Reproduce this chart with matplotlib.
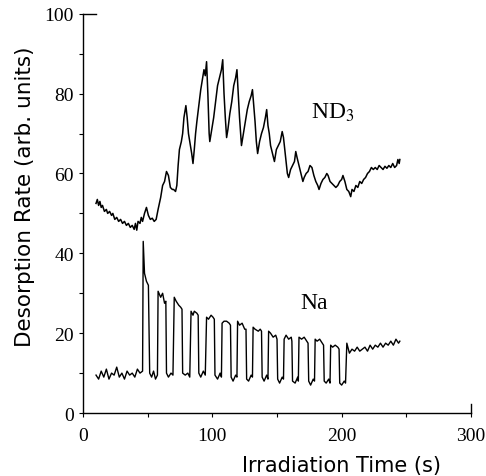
import matplotlib
matplotlib.use("Agg")
import matplotlib.pyplot as plt
from matplotlib.ticker import MultipleLocator

# ND3 desorption trace (time s, rate)
nd3_t = [10, 11, 12, 13, 14, 15, 16.5, 18, 19, 20.5, 22, 23, 24.5, 26, 27.5, 29, 30.5, 32, 33.5,
         35, 36.5, 38, 39.5, 40.5, 41.5, 42.5, 44, 45, 46, 47.5, 49, 50.5, 52, 53.5, 55, 56.5,
         58, 60, 61.5, 63, 64.5, 66, 67.5, 69, 70, 71.5, 72.5, 73.5, 74.5, 76, 77, 78, 79.5,
         80.5, 81.5, 82.5, 84, 85, 86, 87, 88, 89.5, 91, 92.5, 93.5, 94.5, 95.5, 96.5, 97.5,
         98, 99.5, 101, 102.5, 104, 105.5, 107, 108, 109, 110, 111, 112, 113.5, 115, 116.5,
         118, 119, 120, 121, 122.5, 124, 125.5, 127, 128.5, 130, 131, 132, 133, 134, 135,
         136.5, 138, 139.5, 141, 142, 143, 144, 145, 146.5, 148, 149.5, 151, 152.5, 154, 155,
         156, 157, 158, 159, 160.5, 162, 163.5, 164.5, 165.5, 167, 168.5, 170, 171, 172.5,
         174, 175.5, 177, 178.5, 180, 181.5, 182.5, 184, 185.5, 187, 188.5, 189.5, 191, 192.5,
         194, 195.5, 197, 198.5, 200, 201, 202.5, 204, 205.5, 207, 208, 209.5, 211, 212.5, 214,
         215.5, 217, 218.5, 220, 221.5, 223, 224.5, 226, 227.5, 229, 230.5, 232, 233.5, 235,
         236.5, 238, 239.5, 241, 242.5, 243.5, 244.5, 245]
nd3_v = [52.5, 53.5, 52, 53, 51.5, 52, 50.5, 51, 50, 50.5, 49.5, 50, 48.5, 49, 48, 48.5, 47.5, 48, 47,
         47.5, 46.5, 47, 46, 47.5, 45.8, 48, 47.5, 49, 48, 50, 51.5, 49.5, 48.5, 48.8, 48, 48.5,
         51, 54, 57, 58, 60.5, 59.5, 56.5, 56, 56, 55.5, 57, 62, 66, 68, 70, 74, 77,
         74, 70, 68, 65, 62.5, 66, 70, 73, 77, 81, 84, 86, 84.5, 88, 80, 70,
         68, 71, 74, 78, 82, 84, 86, 88.5, 80, 74, 69, 71, 75, 78, 82,
         84, 86, 80, 74, 67, 70, 73, 76, 78, 79.5, 81, 77, 73, 68, 65,
         68, 70, 71.5, 74, 76, 72, 70, 67, 65, 63, 66, 67, 68, 70.5, 69,
         66, 63, 60, 59, 61, 62, 63, 65.5, 64, 62, 60, 58, 59, 60,
         60.5, 62, 61.5, 59.5, 58, 57, 56, 57.5, 58.5, 59, 60, 59.5, 58, 57.5,
         57, 56.5, 57, 58, 58.5, 59.5, 58, 56, 55.5, 54.2, 56, 55.5, 57, 56.5, 58,
         57.5, 58.5, 59, 60, 60.5, 61.5, 61, 61.5, 61, 62, 61.5, 61, 61.8, 61.3,
         62, 61.5, 62.5, 61.5, 62, 63.5, 62.5, 63.5]

# Na desorption trace (pulsed laser on/off)
na_t = [10, 12, 14, 16, 18, 20, 22, 24, 26, 28, 30, 32, 34, 36, 38, 40, 42, 44, 46,
        46.5, 47.5, 49, 50.5, 51.5, 53, 54.5, 56, 57.5,
        58, 60, 61.5, 63, 64, 64.5, 66, 68, 69.5,
        70.5, 72, 74, 75.5, 76.5, 77, 79, 81, 82.5,
        83.5, 85, 86, 88, 89, 89.5, 91, 93, 94.5,
        95.5, 97, 99, 100.5, 101.5, 102, 104, 106, 107,
        107.5, 109, 111, 113, 114, 114.5, 116, 118, 119,
        119.5, 121, 123, 125, 126, 126.5, 128, 130, 131,
        131.5, 133, 135.5, 137, 138, 138.5, 140, 142, 143,
        143.5, 145, 147, 149, 150, 150.5, 152, 154, 155,
        155.5, 157, 159, 161, 161.5, 162, 164, 166, 166.5,
        167, 169, 171, 173, 174, 174.5, 176, 178, 179,
        179.5, 181, 183, 185, 186, 186.5, 188, 190, 191,
        191.5, 193, 195, 197, 198, 198.5, 200, 202, 203,
        204, 206, 208, 210, 212, 214, 216, 218, 220, 222, 224, 226, 228, 230, 232,
        234, 236, 238, 240, 242, 244, 245]
na_v = [9.5, 8.5, 10.5, 9, 11, 8.5, 10, 9.5, 11.5, 9, 10, 8.5, 10.5, 9.5, 10, 9, 11, 10, 10.5,
        43, 35, 33, 32, 10, 9, 10.5, 8.5, 9.5,
        30.5, 29, 30, 27.5, 28, 10, 9, 10, 9.5,
        29, 28, 27, 26.5, 26, 10, 9.5, 10, 9,
        25.5, 24.5, 25.5, 25, 24.5, 10, 9, 10.5, 9.5,
        24, 23.5, 24.5, 24, 23.5, 9.5, 8.5, 10, 9,
        22.5, 23, 23, 22.5, 22, 9, 8, 9.5, 9,
        23, 22, 22.5, 21, 21, 8.5, 8, 9.5, 9,
        21.5, 21, 20.5, 21, 20.5, 9, 8, 9.5, 8.5,
        20.5, 20, 19, 19.5, 18.5, 8.5, 7.5, 9, 8.5,
        18.5, 19.5, 18.5, 19, 18, 8, 7.5, 9, 8,
        19, 18.5, 19, 18, 17.5, 8, 7, 8.5, 8,
        18.5, 18, 18.5, 17.5, 17, 8, 7.5, 8.5, 7.5,
        17, 16.5, 17, 16.5, 16, 7.5, 7, 8, 7.5,
        17.5, 15, 16, 15.5, 16.5, 15.5, 16, 16.5, 15.5, 17, 16, 17, 16.5, 17.5, 16.5,
        17.5, 17, 18, 17, 18.5, 17.5, 18]

fig = plt.figure(figsize=(4.86, 4.77), dpi=100)
ax = fig.add_axes([0.171, 0.132, 0.798, 0.837])

ax.plot(nd3_t, nd3_v, color="black", lw=1.1)
ax.plot(na_t, na_v, color="black", lw=1.0)

ax.set_xlim(0, 300)
ax.set_ylim(0, 100)
ax.xaxis.set_major_locator(MultipleLocator(100))
ax.xaxis.set_minor_locator(MultipleLocator(50))
ax.yaxis.set_major_locator(MultipleLocator(20))
ax.yaxis.set_minor_locator(MultipleLocator(10))
ax.tick_params(which="both", direction="out", length=3, width=0.8)
ax.tick_params(which="major", labelsize=14)
ax.tick_params(axis="x", which="major", pad=7)
for lab in ax.get_xticklabels() + ax.get_yticklabels():
    lab.set_family("Liberation Serif")

ax.spines["top"].set_bounds(0, 10)
ax.spines["right"].set_bounds(0, 2.3)
for s in ax.spines.values():
    s.set_linewidth(1.0)

ax.text(193, 75.5, "ND$_3$", fontsize=17, family="Liberation Serif",
        ha="center", va="center", math_fontfamily="stix")
ax.text(178.5, 27.8, "Na", fontsize=17, family="Liberation Serif",
        ha="center", va="center")

ax.set_xlabel("Irradiation Time (s)", fontsize=15, family="DejaVu Sans")
ax.set_ylabel("Desorption Rate (arb. units)", fontsize=15.5, family="DejaVu Sans")
ax.xaxis.label.set_va("baseline")
ax.xaxis.set_label_coords(0.667, -0.146)
ax.yaxis.set_label_coords(-0.124, 0.544)

fig.savefig("out.png", dpi=100)
